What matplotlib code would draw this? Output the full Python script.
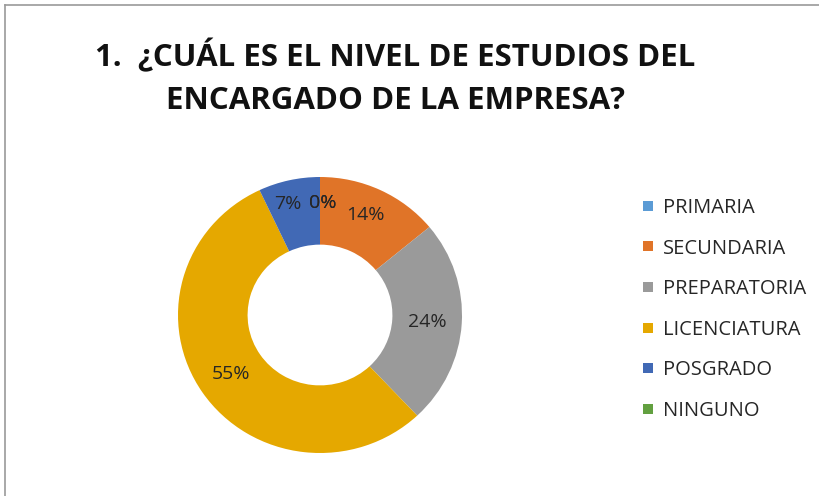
import matplotlib
matplotlib.use("Agg")
import matplotlib.pyplot as plt
from matplotlib.lines import Line2D
import numpy as np

TITLE = "1.  ¿CUÁL ES EL NIVEL DE ESTUDIOS DEL\nENCARGADO DE LA EMPRESA?"
categories = ["PRIMARIA", "SECUNDARIA", "PREPARATORIA", "LICENCIATURA", "POSGRADO", "NINGUNO"]
percentages = [0, 14, 24, 55, 7, 0]
colors = ["#5B9BD5", "#E07428", "#9A9A9A", "#E5A800", "#4169B5", "#62A040"]

plt.rcParams["font.family"] = ["Open Sans", "DejaVu Sans"]

fig = plt.figure(figsize=(8.19, 4.96), dpi=100)
W, H = 819, 496

# donut centred at (320, 315) px
cx, cy, rx, ry = 320, 315, 142, 138
ax = fig.add_axes([(cx - rx) / W, (H - cy - ry) / H, 2 * rx / W, 2 * ry / H])

inner = 0.51
wedges, _ = ax.pie(
    percentages,
    colors=colors,
    startangle=90,
    counterclock=False,
    radius=1.0,
    wedgeprops=dict(width=1 - inner, linewidth=0),
    normalize=True,
)
ax.set_xlim(-1, 1)
ax.set_ylim(-1, 1)
ax.set_aspect("auto")
ax.axis("off")

# percentage labels at the middle of the ring
total = sum(percentages)
label_r = (1 + inner) / 2
start = 90.0
for value, w in zip(percentages, wedges):
    sweep = 360.0 * value / total
    mid = np.deg2rad(start - sweep / 2)
    start -= sweep
    x, y = label_r * np.cos(mid), label_r * np.sin(mid)
    if value == 0:
        x += 0.02
        y += 0.06
    elif value == 7:
        x -= 0.06
        y += 0.07
    elif value == 14:
        y += 0.04
    ax.text(x, y, f"{value}%", ha="center", va="center", fontsize=14, color="#262626")

fig.text(395 / W, 1 - 78 / H, TITLE, ha="center", va="center", fontsize=22.5,
         fontweight="bold", color="#111111", linespacing=1.55)

handles = [Line2D([0], [0], marker="s", linestyle="", markersize=7.5,
                  markerfacecolor=c, markeredgewidth=0) for c in colors]
fig.legend(handles, categories, loc="upper left", bbox_to_anchor=(639 / W, 1 - 198 / H),
           frameon=False, fontsize=14.5, handletextpad=0.3, labelspacing=1.02,
           handlelength=0.9, borderaxespad=0, borderpad=0, labelcolor="#262626")

# frame lines along the top and left
fig.add_artist(Line2D([5 / W, 1], [1 - 5 / H, 1 - 5 / H], color="#9a9a9a", linewidth=1.2,
                      transform=fig.transFigure))
fig.add_artist(Line2D([5 / W, 5 / W], [0, 1 - 5 / H], color="#9a9a9a", linewidth=1.2,
                      transform=fig.transFigure))

fig.savefig("out.png", dpi=100, facecolor="white")
